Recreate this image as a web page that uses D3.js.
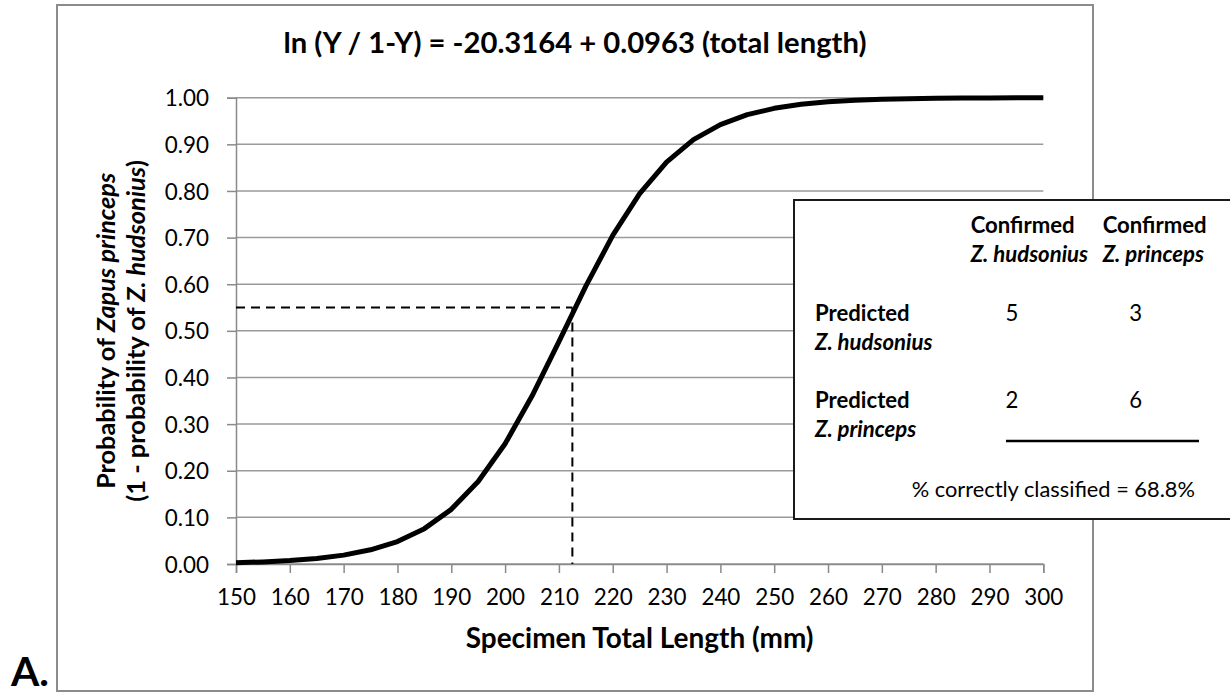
<!DOCTYPE html>
<html>
<head>
<meta charset="utf-8">
<script src="https://cdn.jsdelivr.net/npm/d3@7"></script>
<style>
  html, body { margin: 0; padding: 0; background: #fff; }
  svg { display: block; font-family: Lato, "Open Sans", sans-serif; }
</style>
</head>
<body>
<svg id="chart" width="1230" height="694"></svg>
<script>
// ---- data ----
const lengths = [150,155,160,165,170,175,180,185,190,195,200,205,210,215,220,225,230,235,240,245,250,255,260,265,270,275,280,285,290,295,300];
const probs = [0.0028,0.0045,0.0073,0.0118,0.0190,0.0304,0.0482,0.0758,0.1172,0.1768,0.2580,0.3601,0.4767,0.5958,0.7047,0.7943,0.8620,0.9100,0.9424,0.9636,0.9772,0.9858,0.9912,0.9945,0.9966,0.9979,0.9987,0.9992,0.9995,0.9997,0.9998];
const xTicks = [150,160,170,180,190,200,210,220,230,240,250,260,270,280,290,300];
const yTicks = [0,0.1,0.2,0.3,0.4,0.5,0.6,0.7,0.8,0.9,1.0];
const cutoffLength = 212.5;
const cutoffProb = 0.55;
const confirmedSpecies = ["Z. hudsonius", "Z. princeps"];
const predictedSpecies = ["Z. hudsonius", "Z. princeps"];
const counts = [[5,3],[2,6]];
const accuracyText = "% correctly classified = 68.8%";
const titleText = "ln (Y / 1-Y) = -20.3164 + 0.0963 (total length)";
const xTitle = "Specimen Total Length (mm)";

// ---- layout ----
const svg = d3.select("#chart");
const x = d3.scaleLinear().domain([150,300]).range([236,1043.3]);
const y = d3.scaleLinear().domain([0,1]).range([564,97.7]);
const gridColor = "#9a9a9a";
const axisColor = "#8a8a8a";

function fit(t, w) {
  const base = 20;
  t.style("font-size", base + "px");
  const l = t.node().getComputedTextLength();
  const s = base * w / l;
  t.style("font-size", s + "px");
  return s;
}

// outer chart frame
svg.append("rect").attr("x",57).attr("y",5).attr("width",1036).attr("height",686)
  .attr("fill","#fff").attr("stroke","#8c8c8c").attr("stroke-width",2);

// "A." label
const aLab = svg.append("text").attr("x",11).attr("y",686).text("A.")
  .style("font-weight","bold").attr("fill","#000");
fit(aLab, 38);

// gridlines
svg.append("g").selectAll("line").data(yTicks).join("line")
  .attr("x1", x(150)).attr("x2", x(300))
  .attr("y1", d => y(d)).attr("y2", d => y(d))
  .attr("stroke", gridColor).attr("stroke-width", 1.5);

// y axis
const yAxis = svg.append("g").attr("transform", `translate(${x(150)},0)`)
  .call(d3.axisLeft(y).tickValues(yTicks).tickSize(9).tickPadding(18).tickFormat(d3.format(".2f")));
yAxis.select(".domain").attr("stroke", axisColor).attr("stroke-width", 1.5);
yAxis.selectAll(".tick line").attr("stroke", axisColor).attr("stroke-width", 1.5);
const yLabs = yAxis.selectAll(".tick text").attr("fill","#000").style("font-family","Lato").attr("dy","0.36em");

// x axis
const xAxis = svg.append("g").attr("transform", `translate(0,${y(0)})`)
  .call(d3.axisBottom(x).tickValues(xTicks).tickSize(9).tickPadding(16).tickFormat(d3.format("d")));
xAxis.select(".domain").attr("stroke", axisColor).attr("stroke-width", 1.5);
xAxis.selectAll(".tick line").attr("stroke", axisColor).attr("stroke-width", 1.5);
const xLabs = xAxis.selectAll(".tick text").attr("fill","#000").style("font-family","Lato").attr("dy","0.71em");

// tick label size fitted to reference width of "0.90"
const probe = svg.append("text").text("0.90").style("font-family","Lato");
const tickSize = fit(probe, 44.3);
probe.remove();
yLabs.style("font-size", tickSize + "px");
xLabs.style("font-size", tickSize + "px");

// dashed cutoff lines
svg.append("line").attr("x1", x(150)).attr("x2", x(cutoffLength))
  .attr("y1", y(cutoffProb)).attr("y2", y(cutoffProb))
  .attr("stroke","#000").attr("stroke-width",2).attr("stroke-dasharray","9,6");
svg.append("line").attr("x1", x(cutoffLength)).attr("x2", x(cutoffLength))
  .attr("y1", y(cutoffProb)).attr("y2", y(0))
  .attr("stroke","#000").attr("stroke-width",2).attr("stroke-dasharray","9,6");

// logistic curve
const line = d3.line().x((d,i) => x(lengths[i])).y(d => y(d));
svg.append("path").datum(probs).attr("d", line)
  .attr("fill","none").attr("stroke","#000").attr("stroke-width",5)
  .attr("stroke-linejoin","round");

// title
const title = svg.append("text").attr("x",575).attr("y",53).attr("text-anchor","middle")
  .style("font-weight","bold").attr("fill","#000").text(titleText);
fit(title, 583);

// x title
const xt = svg.append("text").attr("x",(x(150)+x(300))/2).attr("y",648).attr("text-anchor","middle")
  .style("font-weight","bold").attr("fill","#000").text(xTitle);
fit(xt, 348);

// y title (two lines)
const yc = (y(0)+y(1))/2;
const yt1 = svg.append("text").attr("transform", `translate(115,${yc}) rotate(-90)`)
  .attr("text-anchor","middle").style("font-weight","bold").attr("fill","#000");
yt1.append("tspan").text("Probability of ");
yt1.append("tspan").style("font-style","italic").text("Zapus princeps");
fit(yt1, 316);
const yt2 = svg.append("text").attr("transform", `translate(145,${yc}) rotate(-90)`)
  .attr("text-anchor","middle").style("font-weight","bold").attr("fill","#000");
yt2.append("tspan").text("(1 - probability of ");
yt2.append("tspan").style("font-style","italic").text("Z. hudsonius");
yt2.append("tspan").text(")");
fit(yt2, 342);

// ---- classification table box ----
const box = svg.append("g");
box.append("rect").attr("x",794).attr("y",200).attr("width",460).attr("height",319)
  .attr("fill","#fff").attr("stroke","#1a1a1a").attr("stroke-width",2);

const probeB = box.append("text").text("Confirmed").style("font-weight","bold");
const boxSize = fit(probeB, 104);
probeB.remove();

const colX = [970.7, 1102.7];
const colC = [1012, 1135.7];
const rowY = [321, 408.3];

confirmedSpecies.forEach((sp, j) => {
  box.append("text").attr("x", colX[j]).attr("y", 232.7)
    .style("font-weight","bold").style("font-size", boxSize+"px").attr("fill","#000").text("Confirmed");
  box.append("text").attr("x", colX[j]).attr("y", 261.5)
    .style("font-weight","bold").style("font-style","italic").style("font-size", boxSize+"px")
    .attr("fill","#000").text(sp);
});
predictedSpecies.forEach((sp, i) => {
  box.append("text").attr("x", 815).attr("y", rowY[i])
    .style("font-weight","bold").style("font-size", boxSize+"px").attr("fill","#000").text("Predicted");
  box.append("text").attr("x", 815).attr("y", rowY[i] + 28.5)
    .style("font-weight","bold").style("font-style","italic").style("font-size", boxSize+"px")
    .attr("fill","#000").text(sp);
  counts[i].forEach((c, j) => {
    box.append("text").attr("x", colC[j]).attr("y", rowY[i]).attr("text-anchor","middle")
      .style("font-size", boxSize+"px").attr("fill","#000").text(c);
  });
});
box.append("line").attr("x1",1006).attr("x2",1199).attr("y1",441).attr("y2",441)
  .attr("stroke","#000").attr("stroke-width",2.5);
const acc = box.append("text").attr("x",911.7).attr("y",496.7).attr("fill","#000").text(accuracyText);
fit(acc, 283.5);
</script>
</body>
</html>
